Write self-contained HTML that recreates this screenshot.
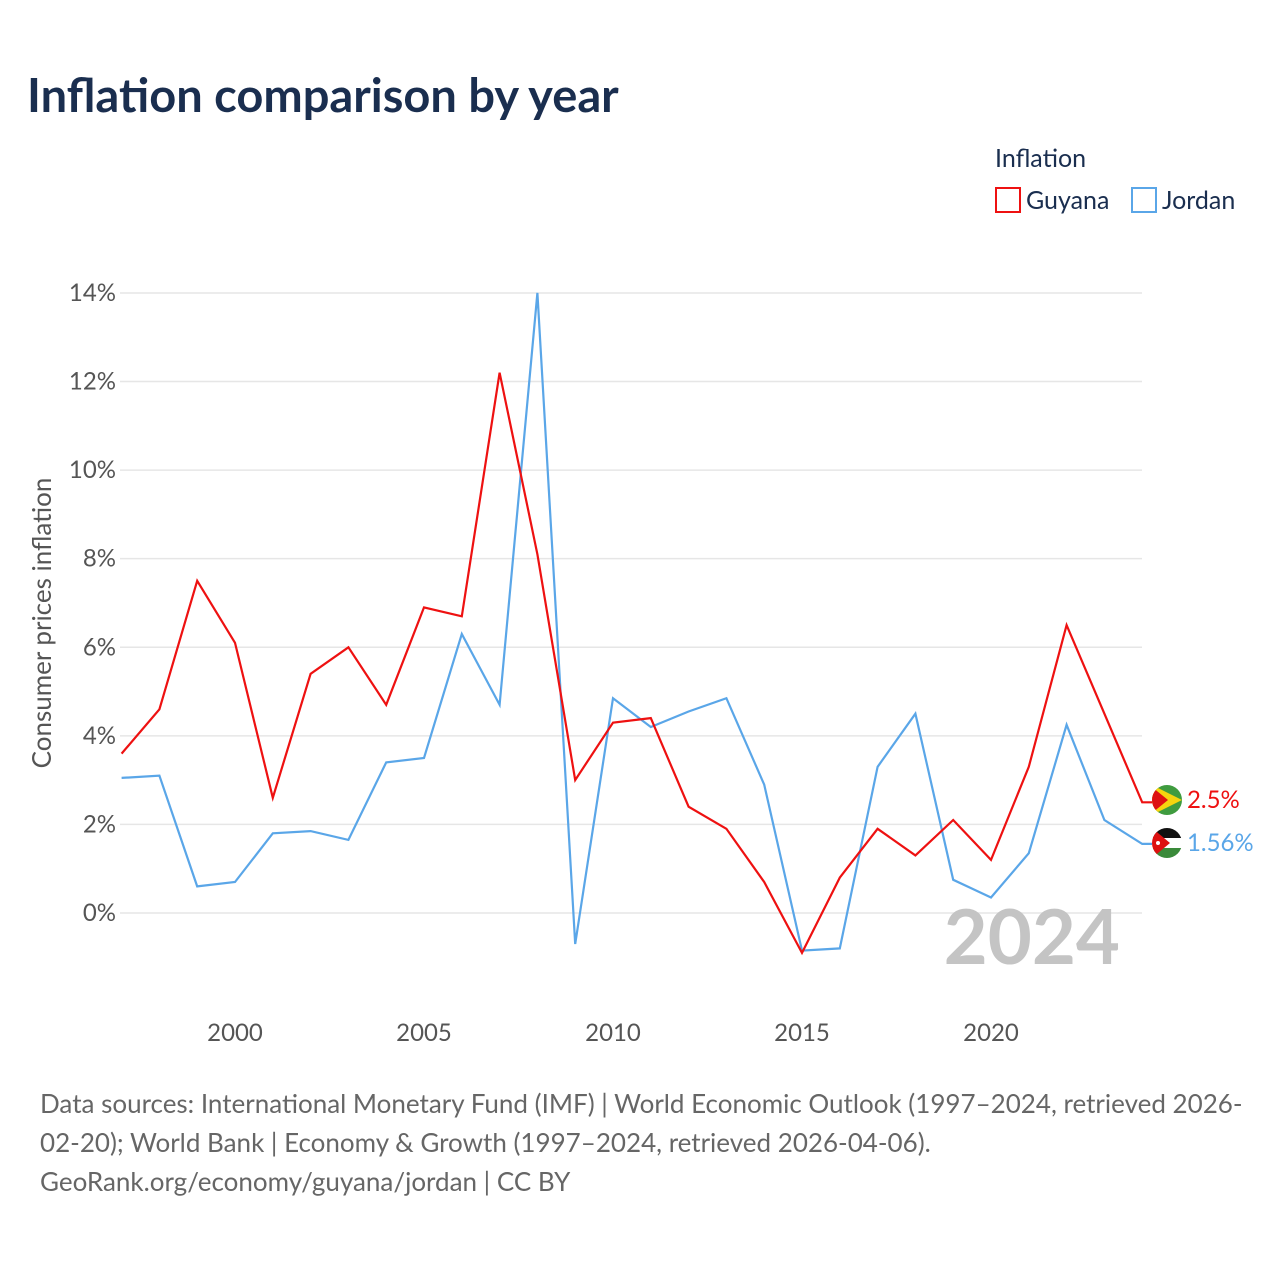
<!DOCTYPE html>
<html><head><meta charset="utf-8"><style>
body{margin:0;background:#fff;font-family:"Liberation Sans",sans-serif;}
svg text{font-family:"Lato","Liberation Sans",sans-serif;}
</style></head><body>
<svg id="chart" width="1280" height="1280" viewBox="0 0 1280 1280">
<defs>
<clipPath id="c1"><circle cx="1167" cy="800" r="15"/></clipPath>
<clipPath id="c2"><circle cx="1167" cy="843" r="15"/></clipPath>
</defs>
<text x="27" y="112" font-size="47" font-weight="bold" fill="#1a2e4f">Inflation comparison by year</text>
<text x="995" y="167" font-size="25" fill="#1a2e4f">Inflation</text>
<g><rect x="996" y="188" width="24" height="24" fill="none" stroke="#ee1111" stroke-width="2"/><text x="1026" y="209" font-size="25" fill="#1a2e4f">Guyana</text></g>
<g><rect x="1132" y="188" width="24" height="24" fill="none" stroke="#5aa6e8" stroke-width="2"/><text x="1162" y="209" font-size="25" fill="#1a2e4f">Jordan</text></g>
<text transform="translate(51,623) rotate(-90)" text-anchor="middle" font-size="26" fill="#555">Consumer prices inflation</text>
<g id="grid"></g><g id="xt"></g>
<text x="1120" y="964" text-anchor="end" font-size="76" font-weight="bold" fill="#c4c4c4">2024</text>
<g id="lines"></g>
<g clip-path="url(#c1)"><rect x="1152" y="785" width="30" height="30" fill="#3f9b3f"/><polygon points="1152,785 1182,800 1152,815" fill="#f5d40f"/><polygon points="1152,787 1168,800 1152,813" fill="#d11"/></g>
<g clip-path="url(#c2)"><rect x="1152" y="828" width="30" height="10" fill="#111"/><rect x="1152" y="838" width="30" height="10" fill="#fff"/><rect x="1152" y="848" width="30" height="10" fill="#3a8a3a"/><polygon points="1152,828 1170,843 1152,858" fill="#d11"/><circle cx="1158" cy="843" r="2" fill="#fff"/></g>
<text x="1187" y="808" font-size="24" fill="#ee1111">2.5%</text>
<text x="1187" y="851" font-size="24" fill="#5aa6e8">1.56%</text>
<text font-size="26" fill="#666"><tspan x="40" y="1113">Data sources: International Monetary Fund (IMF) | World Economic Outlook (1997–2024, retrieved 2026-</tspan><tspan x="40" y="1152">02-20); World Bank | Economy &amp; Growth (1997–2024, retrieved 2026-04-06).</tspan><tspan x="40" y="1191">GeoRank.org/economy/guyana/jordan | CC BY</tspan></text>
</svg>
<script>
const years=[1997,1998,1999,2000,2001,2002,2003,2004,2005,2006,2007,2008,2009,2010,2011,2012,2013,2014,2015,2016,2017,2018,2019,2020,2021,2022,2023,2024];
const guyana=[3.6,4.6,7.5,6.1,2.6,5.4,6.0,4.7,6.9,6.7,12.2,8.1,3.0,4.3,4.4,2.4,1.9,0.7,-0.9,0.8,1.9,1.3,2.1,1.2,3.3,6.5,4.5,2.5];
const jordan=[3.05,3.1,0.6,0.7,1.8,1.85,1.65,3.4,3.5,6.3,4.7,14.0,-0.7,4.85,4.2,4.55,4.85,2.9,-0.85,-0.8,3.3,4.5,0.75,0.35,1.35,4.25,2.1,1.56];
const yTicks=[0,2,4,6,8,10,12,14];
const xTicks=[2000,2005,2010,2015,2020];
const NS='http://www.w3.org/2000/svg';
const X=y=>121.6+(y-1997)*37.8;
const Y=v=>913-v*44.29;
const grid=document.getElementById('grid');
yTicks.forEach(t=>{
 const l=document.createElementNS(NS,'line');
 
 
 l.setAttribute('x1',120);l.setAttribute('x2',1142);l.setAttribute('y1',Y(t));l.setAttribute('y2',Y(t));
 l.setAttribute('stroke','#e6e6e6');l.setAttribute('stroke-width',1.5);grid.appendChild(l);
 const s=document.createElementNS(NS,'text');
 
 
 s.setAttribute('x',116);s.setAttribute('y',Y(t)+8);s.setAttribute('text-anchor','end');s.setAttribute('font-size',24);s.setAttribute('fill','#555');
 s.textContent=t+'%';grid.appendChild(s);
});
const xt=document.getElementById('xt');
xTicks.forEach(t=>{
 const s=document.createElementNS(NS,'text');
 
 
 s.setAttribute('x',X(t));s.setAttribute('y',1041);s.setAttribute('text-anchor','middle');s.setAttribute('font-size',24);s.setAttribute('fill','#555');
 s.textContent=t;xt.appendChild(s);
});
const lines=document.getElementById('lines');
function draw(vals,color,name){
 let pts=vals.map((v,i)=>X(years[i]).toFixed(1)+','+Y(v).toFixed(1));
 pts.push((X(2024)+10).toFixed(1)+','+Y(vals[vals.length-1]).toFixed(1));
 const p=document.createElementNS(NS,'polyline');
 
 
 p.setAttribute('points',pts.join(' '));p.setAttribute('fill','none');p.setAttribute('stroke',color);p.setAttribute('stroke-width',2.2);
 lines.appendChild(p);
}
draw(jordan,'#5aa6e8','jordan-line');
draw(guyana,'#ee1111','guyana-line');
</script>
</body></html>
